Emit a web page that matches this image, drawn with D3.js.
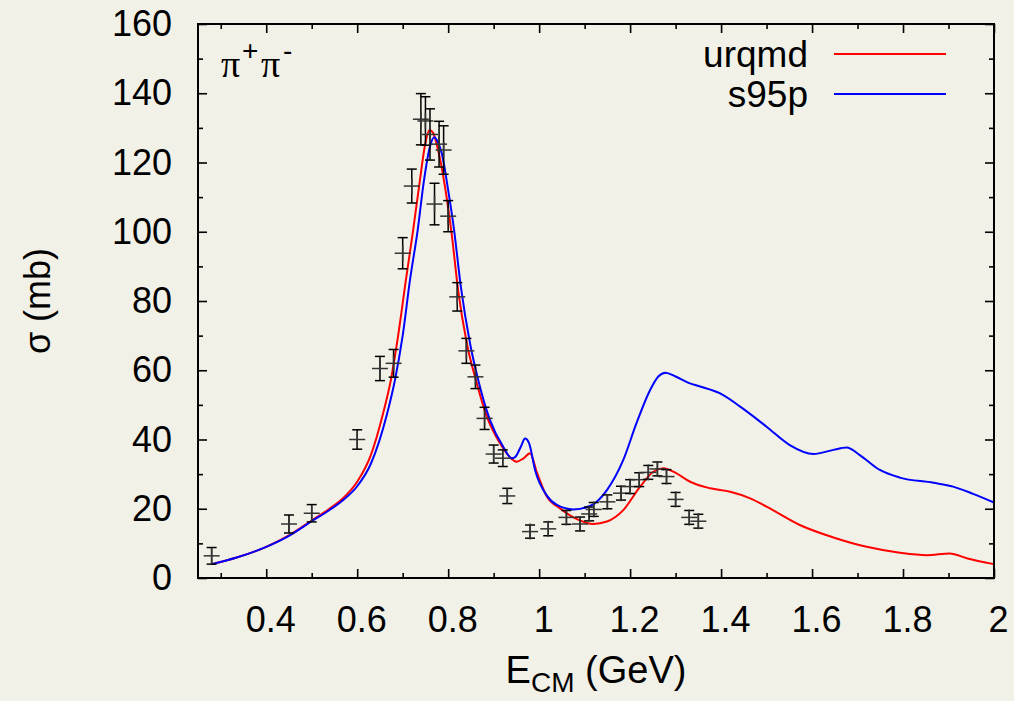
<!DOCTYPE html>
<html>
<head>
<meta charset="utf-8">
<script src="https://cdn.jsdelivr.net/npm/d3@7"></script>
<style>
  html, body { margin: 0; padding: 0; background: #f2f1e7; }
  svg { display: block; }
</style>
</head>
<body>
<svg id="chart" width="1014" height="701"></svg>
<script>
// measured data: pi+ pi- cross section
const dataE   = [0.28, 0.45, 0.50, 0.60, 0.65, 0.68, 0.70, 0.72, 0.74, 0.75, 0.76, 0.77, 0.78, 0.79, 0.80, 0.82, 0.84, 0.86, 0.88, 0.90, 0.92, 0.93, 0.98, 1.02, 1.06, 1.09, 1.11, 1.12, 1.15, 1.18, 1.20, 1.22, 1.24, 1.26, 1.28, 1.30, 1.33, 1.35];
const dataSig = [6.4, 15.6, 18.7, 40.0, 60.5, 62.0, 93.8, 113.2, 132.5, 132.0, 128.1, 108.0, 125.3, 123.6, 104.5, 81.2, 65.6, 58.1, 46.1, 35.8, 34.6, 23.7, 13.4, 14.2, 17.5, 15.6, 18.5, 19.8, 22.0, 24.5, 26.4, 28.4, 30.5, 31.5, 29.3, 22.7, 17.5, 16.4];
const dataErr = [2.4, 2.6, 2.5, 2.8, 3.5, 4.0, 4.5, 4.9, 7.4, 7.0, 7.4, 6.0, 6.6, 7.0, 4.5, 4.1, 3.6, 3.4, 3.2, 2.6, 2.4, 2.2, 1.9, 2.0, 2.0, 2.0, 2.0, 2.0, 2.0, 2.0, 2.0, 2.0, 2.0, 2.0, 2.0, 2.0, 2.0, 2.0];

// urqmd curve
const urqmdE   = [0.28, 0.335, 0.40, 0.45, 0.50, 0.54, 0.57, 0.60, 0.63, 0.657, 0.674, 0.69, 0.707, 0.723, 0.738, 0.749, 0.759, 0.767, 0.776, 0.793, 0.808, 0.822, 0.841, 0.863, 0.885, 0.914, 0.935, 0.950, 0.965, 0.98, 0.995, 1.017, 1.046, 1.083, 1.119, 1.149, 1.185, 1.222, 1.251, 1.273, 1.302, 1.332, 1.376, 1.42, 1.464, 1.50, 1.573, 1.647, 1.72, 1.793, 1.852, 1.903, 1.94, 2.0];
const urqmdSig = [4.0, 5.9, 9.0, 12.3, 16.6, 20.1, 23.2, 27.8, 35.5, 47.6, 57.2, 70, 86, 100.5, 115, 125, 129.4, 128.5, 124.6, 113, 99, 83, 67.8, 56.2, 46.6, 38.9, 35, 33.6, 34.5, 36, 30.5, 23.5, 20.1, 17, 15.6, 16.3, 19.6, 26.4, 30.7, 31.7, 30.2, 27.8, 25.9, 24.9, 23, 20.6, 15.3, 11.7, 9.0, 7.3, 6.6, 7.1, 5.7, 4.0];

// s95p curve
const s95pE   = [0.28, 0.335, 0.40, 0.45, 0.50, 0.54, 0.57, 0.60, 0.63, 0.666, 0.683, 0.70, 0.716, 0.733, 0.747, 0.760, 0.769, 0.777, 0.786, 0.800, 0.813, 0.828, 0.848, 0.868, 0.892, 0.921, 0.940, 0.947, 0.960, 0.969, 0.978, 0.991, 1.017, 1.039, 1.075, 1.112, 1.149, 1.185, 1.214, 1.244, 1.262, 1.278, 1.30, 1.33, 1.354, 1.398, 1.442, 1.50, 1.551, 1.603, 1.647, 1.676, 1.705, 1.749, 1.793, 1.867, 1.91, 1.954, 2.0];
const s95pSig = [4.0, 5.9, 9.0, 12.2, 16.4, 19.7, 22.6, 26.5, 33.0, 47.6, 57.2, 70, 86, 100.5, 115, 124.6, 127.3, 126, 122.6, 112, 100.5, 84, 67.8, 56.2, 45.6, 37.9, 34.6, 34.9, 38, 40.3, 38.9, 31.2, 23.8, 21.1, 19.8, 20.8, 25.4, 34.1, 44.7, 54.3, 58.2, 59.3, 58.2, 56.3, 55.3, 53.3, 49.5, 43.7, 38.4, 35.8, 37, 37.7, 35.5, 31.2, 29, 27.5, 26.4, 24.3, 21.8];

const xMajor = [0.4, 0.6, 0.8, 1, 1.2, 1.4, 1.6, 1.8, 2];
const xMinor = [0.3, 0.5, 0.7, 0.9, 1.1, 1.3, 1.5, 1.7, 1.9];
const yMajor = [0, 20, 40, 60, 80, 100, 120, 140, 160];
const yMinor = [10, 30, 50, 70, 90, 110, 130, 150];

const series = [
  { name: 'urqmd', color: '#ff0000', E: urqmdE, s: urqmdSig },
  { name: 's95p', color: '#0000ff', E: s95pE, s: s95pSig }
];

const mLeft = 198, mRight = 994, mTop = 24, mBottom = 578;
const font = "'Liberation Sans', Arial, sans-serif";

const svg = d3.select('#chart');
svg.append('rect').attr('width', 1014).attr('height', 701).attr('fill', '#f2f1e7');

const x = d3.scaleLinear().domain([0.25, 2]).range([mLeft, mRight]);
const y = d3.scaleLinear().domain([0, 160]).range([mBottom, mTop]);

function styleAxis(g) {
  g.select('.domain').remove();
  g.selectAll('line').attr('stroke', '#000').attr('stroke-width', 1.6);
  g.attr('font-family', font).attr('font-size', 36);
  g.selectAll('text').attr('fill', '#000');
}

// bottom / left with labels
svg.append('g')
  .attr('transform', `translate(0,${mBottom})`)
  .call(d3.axisBottom(x).tickValues(xMajor).tickSize(-9).tickPadding(28).tickFormat(d3.format('~g')))
  .call(styleAxis)
  .selectAll('text').attr('dx', 4);
svg.append('g')
  .attr('transform', `translate(0,${mBottom})`)
  .call(d3.axisBottom(x).tickValues(xMinor).tickSize(-5).tickFormat(''))
  .call(styleAxis);
svg.append('g')
  .attr('transform', `translate(${mLeft},0)`)
  .call(d3.axisLeft(y).tickValues(yMajor).tickSize(-9).tickPadding(26))
  .call(styleAxis);
svg.append('g')
  .attr('transform', `translate(${mLeft},0)`)
  .call(d3.axisLeft(y).tickValues(yMinor).tickSize(-5).tickFormat(''))
  .call(styleAxis);

// mirrored ticks on top / right
svg.append('g')
  .attr('transform', `translate(0,${mTop})`)
  .call(d3.axisTop(x).tickValues(xMajor).tickSize(-9).tickFormat(''))
  .call(styleAxis);
svg.append('g')
  .attr('transform', `translate(0,${mTop})`)
  .call(d3.axisTop(x).tickValues(xMinor).tickSize(-5).tickFormat(''))
  .call(styleAxis);
svg.append('g')
  .attr('transform', `translate(${mRight},0)`)
  .call(d3.axisRight(y).tickValues(yMajor).tickSize(-9).tickFormat(''))
  .call(styleAxis);
svg.append('g')
  .attr('transform', `translate(${mRight},0)`)
  .call(d3.axisRight(y).tickValues(yMinor).tickSize(-5).tickFormat(''))
  .call(styleAxis);

// curves
const line = d3.line().x(d => x(d[0])).y(d => y(d[1])).curve(d3.curveMonotoneX);
const plot = svg.append('g');
series.forEach(sr => {
  plot.append('path')
    .datum(sr.E.map((e, i) => [e, sr.s[i]]))
    .attr('d', line)
    .attr('fill', 'none')
    .attr('stroke', sr.color)
    .attr('stroke-width', 2);
});

// data points with error bars
const pts = dataE.map((e, i) => ({ e, s: dataSig[i], err: dataErr[i] }));
const pg = plot.append('g').attr('stroke', '#000').attr('stroke-width', 1.5);
pts.forEach(p => {
  const cx = x(p.e), cy = y(p.s);
  const y0 = y(p.s - p.err), y1 = y(p.s + p.err);
  pg.append('line').attr('x1', cx).attr('x2', cx).attr('y1', y0).attr('y2', y1);
  pg.append('line').attr('x1', cx - 5).attr('x2', cx + 5).attr('y1', y0).attr('y2', y0);
  pg.append('line').attr('x1', cx - 5).attr('x2', cx + 5).attr('y1', y1).attr('y2', y1);
  // plus marker
  pg.append('line').attr('x1', cx - 8).attr('x2', cx + 8).attr('y1', cy).attr('y2', cy).attr('stroke', '#333');
  pg.append('line').attr('x1', cx).attr('x2', cx).attr('y1', cy - 8).attr('y2', cy + 8).attr('stroke', '#333');
});

// frame
svg.append('rect')
  .attr('x', mLeft).attr('y', mTop)
  .attr('width', mRight - mLeft).attr('height', mBottom - mTop)
  .attr('fill', 'none').attr('stroke', '#000').attr('stroke-width', 2);

// legend
series.forEach((sr, i) => {
  const ly = 66.7 + i * 40;
  svg.append('text')
    .attr('x', 808).attr('y', ly)
    .attr('text-anchor', 'end')
    .attr('font-family', font).attr('font-size', 37)
    .text(sr.name);
  svg.append('line')
    .attr('x1', 834).attr('x2', 946)
    .attr('y1', ly - 12.7).attr('y2', ly - 12.7)
    .attr('stroke', sr.color).attr('stroke-width', 2);
});

// reaction label
const lab = svg.append('text').attr('y', 76.7).attr('font-size', 38);
lab.append('tspan').attr('x', 221).attr('font-family', "'Liberation Serif', serif").text('π');
lab.append('tspan').attr('x', 242).attr('dy', -17).attr('font-family', font).attr('font-size', 28).text('+');
lab.append('tspan').attr('x', 261).attr('dy', 17).attr('font-family', "'Liberation Serif', serif").text('π');
lab.append('tspan').attr('x', 283).attr('dy', -17).attr('font-family', font).attr('font-size', 28).text('-');

// axis titles
const xt = svg.append('text')
  .attr('x', (mLeft + mRight) / 2).attr('y', 683)
  .attr('text-anchor', 'middle')
  .attr('font-family', font).attr('font-size', 38);
xt.append('tspan').text('E');
xt.append('tspan').attr('font-size', 28).attr('dy', 9).text('CM');
xt.append('tspan').attr('dy', -9).text(' (GeV)');

svg.append('text')
  .attr('transform', `translate(50,${(mTop + mBottom) / 2}) rotate(-90)`)
  .attr('text-anchor', 'middle')
  .attr('font-family', font).attr('font-size', 36)
  .text('σ (mb)');
</script>
</body>
</html>
